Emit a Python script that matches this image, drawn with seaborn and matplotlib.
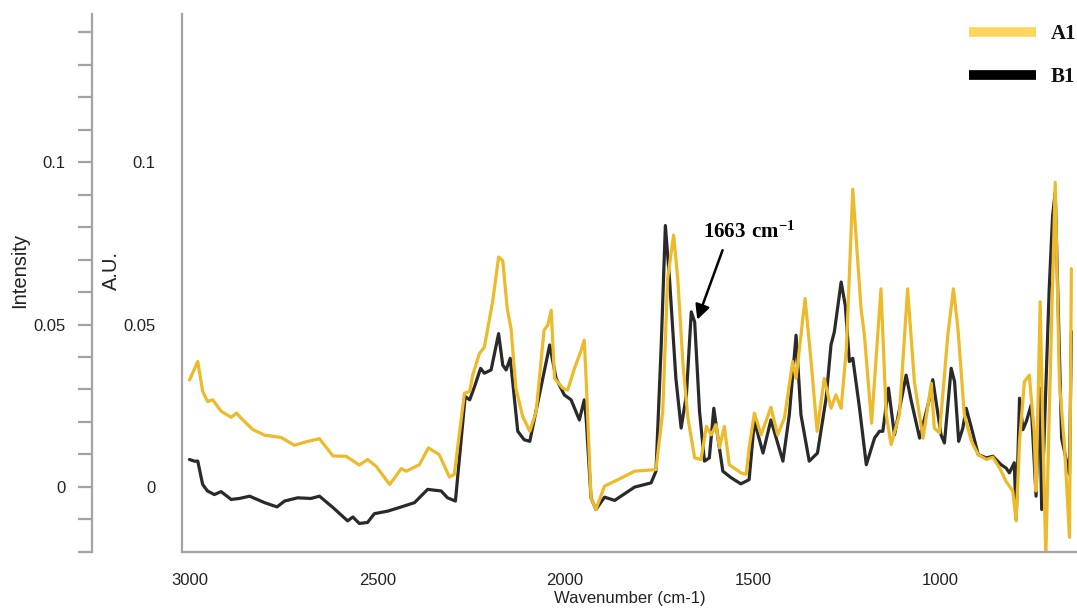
import matplotlib
matplotlib.use("Agg")
import matplotlib.pyplot as plt
import seaborn as sns
import pandas as pd
from matplotlib.lines import Line2D
from matplotlib import font_manager
from matplotlib.ticker import FixedLocator, MultipleLocator, FixedFormatter

# ---------------- data ----------------
a1_wn = [3000, 2978, 2965, 2952, 2938, 2916, 2889, 2875, 2858, 2831, 2800, 2756, 2721, 2685, 2654,
         2618, 2583, 2548, 2526, 2503, 2467, 2436, 2423, 2388, 2364, 2335, 2308, 2295, 2268, 2254,
         2246, 2228, 2215, 2193, 2177, 2166, 2154, 2144, 2131, 2113, 2094, 2077, 2056, 2046, 2037,
         2028, 2006, 1993, 1975, 1957, 1949, 1944, 1931, 1918, 1895, 1859, 1815, 1758, 1740, 1727,
         1711, 1700, 1686, 1673, 1655, 1638, 1624, 1611, 1598, 1589, 1576, 1563, 1532, 1518, 1510,
         1496, 1478, 1452, 1434, 1416, 1394, 1385, 1361, 1345, 1329, 1310, 1292, 1279, 1265, 1251,
         1234, 1212, 1203, 1184, 1159, 1145, 1132, 1110, 1088, 1070, 1047, 1025, 1017, 1003, 981,
         966, 954, 937, 918, 900, 878, 861, 843, 826, 808, 799, 790, 777, 764, 751,
         746, 735, 729, 720, 711, 695, 684, 670, 657, 652]
a1_val = [0.0329, 0.0386, 0.0294, 0.0263, 0.0268, 0.0233, 0.0214, 0.0227, 0.0206, 0.0176, 0.0159, 0.0152, 0.0128, 0.0140, 0.0148,
          0.0095, 0.0094, 0.0067, 0.0084, 0.0063, 0.0007, 0.0056, 0.0048, 0.0068, 0.0120, 0.0099, 0.0030, 0.0038, 0.0288, 0.0294,
          0.0344, 0.0411, 0.0430, 0.0570, 0.0708, 0.0697, 0.0549, 0.0488, 0.0304, 0.0217, 0.0171, 0.0232, 0.0483, 0.0498, 0.0544,
          0.0334, 0.0304, 0.0298, 0.0365, 0.0421, 0.0452, 0.0334, -0.0034, -0.0070, 0.0002, 0.0022, 0.0048, 0.0053, 0.0232, 0.0641,
          0.0776, 0.0641, 0.0375, 0.0212, 0.0089, 0.0084, 0.0186, 0.0160, 0.0191, 0.0120, 0.0186, 0.0068, 0.0043, 0.0038, 0.0120,
          0.0227, 0.0160, 0.0245, 0.0160, 0.0212, 0.0386, 0.0334, 0.0580, 0.0386, 0.0171, 0.0334, 0.0242, 0.0283, 0.0242, 0.0426,
          0.0917, 0.0549, 0.0467, 0.0196, 0.0610, 0.0222, 0.0130, 0.0222, 0.0610, 0.0324, 0.0150, 0.0319, 0.0181, 0.0166, 0.0467,
          0.0610, 0.0488, 0.0222, 0.0140, 0.0099, 0.0084, 0.0091, 0.0058, 0.0017, -0.0013, -0.0105, 0.0140, 0.0324, 0.0344, 0.0171,
          -0.0013, 0.0570, 0.0222, -0.0215, 0.0222, 0.0938, 0.0324, 0.0120, -0.0156, 0.0672]

b1_wn = [3000, 2987, 2978, 2965, 2952, 2934, 2916, 2889, 2867, 2840, 2800, 2767, 2747, 2712, 2677,
         2654, 2618, 2579, 2565, 2548, 2526, 2508, 2472, 2436, 2401, 2366, 2330, 2313, 2292, 2266,
         2254, 2241, 2225, 2215, 2197, 2177, 2166, 2157, 2146, 2126, 2109, 2094, 2072, 2041, 2024,
         2002, 1984, 1962, 1949, 1944, 1931, 1918, 1895, 1868, 1815, 1771, 1758, 1744, 1733, 1722,
         1705, 1691, 1677, 1664, 1655, 1642, 1629, 1616, 1604, 1593, 1580, 1558, 1532, 1510, 1496,
         1473, 1452, 1420, 1403, 1385, 1372, 1350, 1328, 1305, 1292, 1283, 1265, 1254, 1243, 1234,
         1216, 1198, 1176, 1163, 1154, 1139, 1123, 1092, 1078, 1056, 1030, 1021, 999, 990, 972,
         963, 952, 941, 932, 918, 900, 878, 861, 839, 826, 817, 804, 799, 790, 781,
         772, 759, 746, 737, 731, 711, 702, 695, 678, 661, 657, 652]
b1_val = [0.0084, 0.0079, 0.0079, 0.0007, -0.0013, -0.0024, -0.0015, -0.0039, -0.0036, -0.0029, -0.0049, -0.0062, -0.0044, -0.0034, -0.0036,
          -0.0029, -0.0064, -0.0105, -0.0093, -0.0113, -0.0110, -0.0083, -0.0075, -0.0062, -0.0049, -0.0008, -0.0013, -0.0034, -0.0044, 0.0278,
          0.0268, 0.0309, 0.0365, 0.0350, 0.0360, 0.0472, 0.0375, 0.0360, 0.0396, 0.0171, 0.0145, 0.0140, 0.0263, 0.0437, 0.0334,
          0.0283, 0.0268, 0.0206, 0.0268, 0.0212, -0.0034, -0.0070, -0.0032, -0.0042, -0.0001, 0.0012, 0.0048, 0.0437, 0.0805, 0.0641,
          0.0334, 0.0181, 0.0283, 0.0539, 0.0508, 0.0232, 0.0079, 0.0089, 0.0242, 0.0150, 0.0048, 0.0028, 0.0009, 0.0022, 0.0202,
          0.0104, 0.0206, 0.0079, 0.0222, 0.0467, 0.0222, 0.0079, 0.0104, 0.0273, 0.0437, 0.0478, 0.0631, 0.0559, 0.0386, 0.0396,
          0.0242, 0.0068, 0.0150, 0.0171, 0.0171, 0.0304, 0.0160, 0.0344, 0.0263, 0.0150, 0.0270, 0.0330, 0.0160, 0.0135, 0.0365,
          0.0324, 0.0140, 0.0181, 0.0242, 0.0181, 0.0099, 0.0089, 0.0094, 0.0068, 0.0058, 0.0043, 0.0074, -0.0100, 0.0273, 0.0176,
          0.0201, 0.0252, -0.0029, 0.0304, -0.0070, 0.0610, 0.0835, 0.0907, 0.0150, 0.0058, 0.0038, 0.0478]

series_names = ["A1", "B1"]
x_major_ticks = [3000, 2500, 2000, 1500, 1000]
y_major_ticks = [0, 0.05, 0.1]
y_major_labels = ["0", "0.05", "0.1"]
peak_label = r"$\mathbf{1663\ cm^{-1}}$"

# ---------------- style ----------------
sns.set_style("white")
installed = {f.name for f in font_manager.fontManager.ttflist}
if "Liberation Sans Narrow" in installed:
    sans, fs_tick, fs_lab = "Liberation Sans Narrow", 14.5, 14.5
else:
    sans, fs_tick, fs_lab = "Liberation Sans", 12, 12
plt.rcParams['font.family'] = [sans, 'DejaVu Sans']
plt.rcParams['mathtext.fontset'] = 'custom'
plt.rcParams['mathtext.rm'] = 'Liberation Serif'
plt.rcParams['mathtext.bf'] = 'Liberation Serif:bold'

gold = "#ECBA2A"
dark = "#2a2a2a"
spine_col = "#a3a3a3"
text_col = "#222222"

W, H = 1077, 610
fig = plt.figure(figsize=(W / 100, H / 100), dpi=100)
fig.patch.set_facecolor("white")
ax_l, ax_b, ax_r, ax_t = 182, 552, 1077, 14
ax = fig.add_axes([ax_l / W, 1 - ax_b / H, (ax_r - ax_l) / W, (ax_b - ax_t) / H])

df_a = pd.DataFrame({"wn": a1_wn, "val": a1_val})
df_b = pd.DataFrame({"wn": b1_wn, "val": b1_val})
line_kw = dict(lw=2.3, sort=False, estimator=None, solid_joinstyle="round", solid_capstyle="round")
sns.lineplot(data=df_b, x="wn", y="val", ax=ax, color=dark, **line_kw)
sns.lineplot(data=df_a, x="wn", y="val", ax=ax, color=gold, **line_kw)

ax.set_xlim(3020, 637)
ax.set_ylim(-0.0201, 0.1457)

for s in ["top", "right"]:
    ax.spines[s].set_visible(False)
for s in ["left", "bottom"]:
    ax.spines[s].set_color(spine_col)
    ax.spines[s].set_linewidth(1.6)

# x ticks
ax.xaxis.set_major_locator(FixedLocator(x_major_ticks))
ax.xaxis.set_minor_locator(MultipleLocator(100))
ax.tick_params(axis="x", which="major", direction="out", length=14, width=1.6,
               color=spine_col, labelsize=fs_tick, labelcolor=text_col, pad=1)
ax.tick_params(axis="x", which="minor", direction="out", length=9, width=1.6, color=spine_col)

# y ticks
ax.yaxis.set_major_locator(FixedLocator(y_major_ticks))
ax.yaxis.set_major_formatter(FixedFormatter(y_major_labels))
ax.yaxis.set_minor_locator(MultipleLocator(0.01))
ax.tick_params(axis="y", which="both", direction="out", length=10, width=1.6,
               color=spine_col, labelsize=fs_tick, labelcolor=text_col, pad=9)

ax.set_xlabel("Wavenumber (cm-1)", fontsize=fs_lab, color=text_col, labelpad=2)
ax.set_ylabel("A.U.", fontsize=14.5, color=text_col)
ax.yaxis.set_label_coords((121 - ax_l) / (ax_r - ax_l), (ax_b - 270) / (ax_b - ax_t))

# second (outer) y axis: Intensity
ax2 = ax.secondary_yaxis(-90 / (ax_r - ax_l))
ax2.spines["left"].set_color(spine_col)
ax2.spines["left"].set_linewidth(1.6)
ax2.yaxis.set_major_locator(FixedLocator(y_major_ticks))
ax2.yaxis.set_major_formatter(FixedFormatter(y_major_labels))
ax2.yaxis.set_minor_locator(MultipleLocator(0.01))
ax2.tick_params(axis="y", which="both", direction="out", length=10, width=1.6,
                color=spine_col, labelsize=fs_tick, labelcolor=text_col, pad=9)
fig.text(20 / W, 1 - 270 / H, "Intensity", rotation=90, ha="center", va="center",
         fontsize=14.5, color=text_col)

# legend
handles = [Line2D([], [], color="#FFD65C", lw=7, solid_capstyle="butt"),
           Line2D([], [], color="#000000", lw=7, solid_capstyle="butt")]
leg = ax.legend(handles, series_names, loc="upper right",
                bbox_to_anchor=(1076 / W, 1 - 24 / H), bbox_transform=fig.transFigure,
                frameon=False, borderpad=0, borderaxespad=0,
                handlelength=3.2, handletextpad=0.7, labelspacing=1.1,
                prop={"family": "Liberation Serif", "weight": "bold", "size": 15})
for t in leg.get_texts():
    t.set_color("#111111")

# annotation
ax.annotate(peak_label, xy=(1648, 0.0515), xytext=(1511, 0.0788),
            ha="center", va="center", fontsize=15, color="black",
            arrowprops=dict(arrowstyle="-|>", color="black", lw=1.8,
                            mutation_scale=22, relpos=(0.25, 0), shrinkA=4, shrinkB=0))

fig.savefig("out.png", dpi=100, facecolor="white")
